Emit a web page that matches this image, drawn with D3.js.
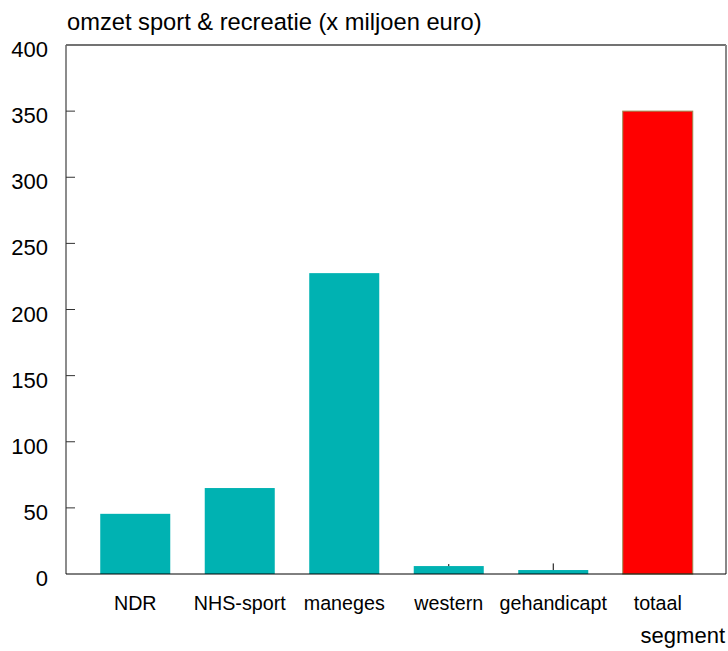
<!DOCTYPE html>
<html><head><meta charset="utf-8">
<script src="https://cdn.jsdelivr.net/npm/d3@7"></script>
<style>body{margin:0;background:#fff}text{font-family:"Liberation Sans",Arial,sans-serif;fill:#000}</style>
</head><body>
<svg id="c" width="728" height="651"></svg>
<script>
const categories = ["NDR","NHS-sport","maneges","western","gehandicapt","totaal"];
const values = [45.5, 65, 227.5, 6, 3, 350];
const errHigh = [null, null, null, 7.5, 8, null];
const barColors = ["#00b2b2","#00b2b2","#00b2b2","#00b2b2","#00b2b2","#ff0000"];
const yTicks = [0,50,100,150,200,250,300,350,400];
const title = "omzet sport & recreatie (x miljoen euro)";
const xTitle = "segment";

const svg = d3.select("#c");
const L = 66, R = 726, T = 45, B = 574;
const y = d3.scaleLinear().domain([0,400]).range([B,T]);
const x = d3.scaleBand().domain(categories).range([83,710]).paddingInner(0.33).paddingOuter(0.165);

svg.append("g").selectAll("rect").data(values).join("rect")
  .attr("x",(d,i)=>x(categories[i])).attr("width",x.bandwidth())
  .attr("y",d=>y(d)).attr("height",d=>B-y(d))
  .attr("fill",(d,i)=>barColors[i])
  .attr("stroke",(d,i)=>i===5?"#9a8a50":"none").attr("stroke-width",1);

svg.append("g").selectAll("line").data(errHigh.map((e,i)=>({e,i})).filter(d=>d.e!=null)).join("line")
  .attr("x1",d=>x(categories[d.i])+x.bandwidth()/2).attr("x2",d=>x(categories[d.i])+x.bandwidth()/2)
  .attr("y1",d=>y(values[d.i])).attr("y2",d=>y(d.e)).attr("stroke","#000").attr("stroke-width",1);

// frame
svg.append("line").attr("x1",L).attr("x2",R).attr("y1",T).attr("y2",T).attr("stroke","#444").attr("stroke-width",1.5);
svg.append("line").attr("x1",R).attr("x2",R).attr("y1",T).attr("y2",B).attr("stroke","#888").attr("stroke-width",2);
svg.append("line").attr("x1",L).attr("x2",L).attr("y1",T).attr("y2",B).attr("stroke","#666").attr("stroke-width",1.5);
svg.append("line").attr("x1",L).attr("x2",R).attr("y1",B).attr("y2",B).attr("stroke","#000").attr("stroke-width",1);

// y ticks inside
svg.append("g").selectAll("line").data(yTicks.filter(t=>t>0&&t<400)).join("line")
  .attr("x1",L).attr("x2",L+9).attr("y1",d=>y(d)).attr("y2",d=>y(d)).attr("stroke","#333").attr("stroke-width",1);
svg.append("g").selectAll("text").data(yTicks).join("text")
  .attr("x",48).attr("y",d=>y(d)+12).attr("text-anchor","end").attr("font-size",22).text(d=>d);

svg.append("g").selectAll("text").data(categories).join("text")
  .attr("x",d=>x(d)+x.bandwidth()/2).attr("y",610).attr("text-anchor","middle").attr("font-size",19.7).text(d=>d);

svg.append("text").attr("x",67).attr("y",30).attr("font-size",23.7).text(title);
svg.append("text").attr("x",725).attr("y",643).attr("text-anchor","end").attr("font-size",22).text(xTitle);
</script>
</body></html>
